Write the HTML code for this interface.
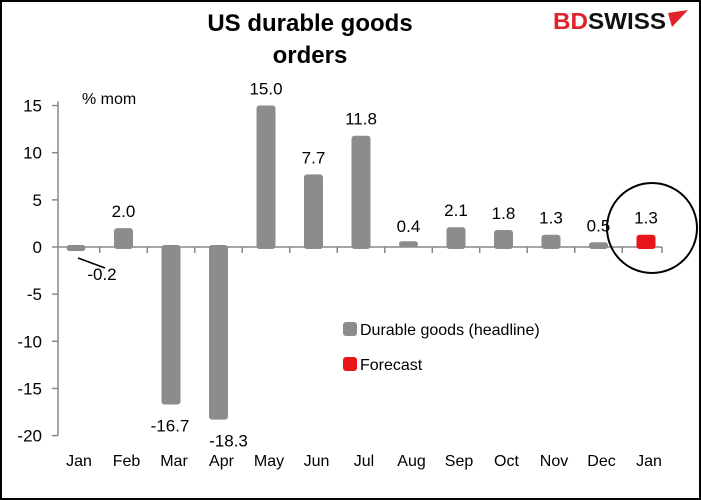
<!DOCTYPE html>
<html><head><meta charset="utf-8"><style>
body{margin:0;background:#fff}
svg{display:block;font-family:"Liberation Sans",Arial,sans-serif}
</style></head><body>
<svg id="c" width="701" height="500">
<rect x="1" y="1" width="699" height="498" fill="#fff" stroke="#000" stroke-width="2"/>
<text x="310" y="31" text-anchor="middle" font-size="24" font-weight="bold">US durable goods</text>
<text x="310" y="63" text-anchor="middle" font-size="24" font-weight="bold">orders</text>
<g>
<text x="553" y="29" font-size="23" font-weight="bold" fill="#e2222a" textLength="113" lengthAdjust="spacingAndGlyphs">BD<tspan fill="#111">SWISS</tspan></text>
<path d="M668 13 L688 10 L672 27 Z" fill="#e2222a"/>
</g>
<text x="82" y="104" font-size="16">% mom</text>
<g id="axes"></g>
<g id="bars"></g>
<circle cx="652" cy="228" r="45" fill="none" stroke="#000" stroke-width="2"/>
<line x1="78" y1="258" x2="105" y2="268" stroke="#000" stroke-width="1.5"/>
<g>
<rect x="343" y="322" width="14" height="14" rx="3" fill="#8c8c8c"/>
<text x="360" y="335" font-size="16">Durable goods (headline)</text>
<rect x="343" y="357" width="14" height="14" rx="3" fill="#e8161b"/>
<text x="360" y="370" font-size="16">Forecast</text>
</g>
</svg>
<script>
const categories=["Jan","Feb","Mar","Apr","May","Jun","Jul","Aug","Sep","Oct","Nov","Dec","Jan"];
const values=[-0.2,2.0,-16.7,-18.3,15.0,7.7,11.8,0.4,2.1,1.8,1.3,0.5,1.3];
const labels=["-0.2","2.0","-16.7","-18.3","15.0","7.7","11.8","0.4","2.1","1.8","1.3","0.5","1.3"];
const isForecast=[false,false,false,false,false,false,false,false,false,false,false,false,true];
const yTicks=[15,10,5,0,-5,-10,-15,-20];
const NS="http://www.w3.org/2000/svg";
const x0=58,xEnd=662,first=76,step=47.5,bw=19;
const y=v=>247-v*9.43;
const cx=i=>first+step*i;
const ax=document.getElementById('axes'),bg=document.getElementById('bars');
function mk(tag,at,p){const e=document.createElementNS(NS,tag);for(const k in at)e.setAttribute(k,at[k]);p.appendChild(e);return e;}
let l=mk('line',{x1:x0,y1:y(15)-4,x2:x0,y2:y(-20),stroke:'#888','stroke-width':1.5},ax);


yTicks.forEach(t=>{
 let tk=mk('line',{x1:x0-6,y1:y(t),x2:x0,y2:y(t),stroke:'#888','stroke-width':1.5},ax);
 
 
 let tx=mk('text',{x:x0-16,y:y(t)+6,'text-anchor':'end','font-size':17},ax);tx.textContent=t;
 
 
});
let xa=mk('line',{x1:x0,y1:y(0),x2:xEnd,y2:y(0),stroke:'#888','stroke-width':1.5},ax);


for(let i=1;i<=categories.length;i++){
 const tx0=i===categories.length?xEnd:Math.min(cx(i-1)+step/2,xEnd);
 let tk=mk('line',{x1:tx0,y1:y(0),x2:tx0,y2:y(0)+6,stroke:'#888','stroke-width':1.5},ax);
 
 
}
categories.forEach((c,i)=>{
 let tx=mk('text',{x:cx(i)+3,y:466,'text-anchor':'middle','font-size':16},ax);tx.textContent=c;
 
 
 const v=values[i],top=Math.min(y(v),y(0)),h=Math.max(Math.abs(y(v)-y(0)),4);
 let r=mk('rect',{x:cx(i)-bw/2,y:v<0?y(0)-2:top-(h===4?2:0),width:bw,height:h+2,rx:3,fill:isForecast[i]?'#e8161b':'#8c8c8c'},bg);
 
 
 let lx=cx(i),ly;
 if(i===0){lx=cx(i)+26;ly=y(0)+33;}
 else if(v<0){ly=y(v)+27;}
 else ly=y(v)-11;
 if(i===2)lx-=1; if(i===3)lx+=10;
 let lt=mk('text',{x:lx,y:ly,'text-anchor':'middle','font-size':17},bg);lt.textContent=labels[i];
 
 
});
</script>
</body></html>
